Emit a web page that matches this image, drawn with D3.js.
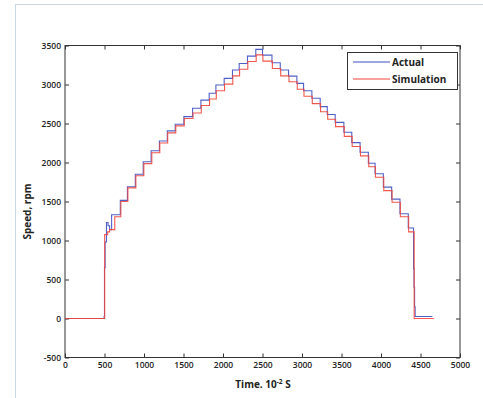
<!DOCTYPE html>
<html>
<head>
<meta charset="utf-8">
<script src="https://cdn.jsdelivr.net/npm/d3@7"></script>
<style>
  html, body { margin: 0; padding: 0; background: #fff; }
  svg { display: block; }
  text { font-family: "Open Sans", "Noto Sans", sans-serif; }
</style>
</head>
<body>
<svg id="chart" width="483" height="398"></svg>
<script>
// ---- data ----
const xTicks = [0, 500, 1000, 1500, 2000, 2500, 3000, 3500, 4000, 4500, 5000];
const yTicks = [-500, 0, 500, 1000, 1500, 2000, 2500, 3000, 3500];
const seriesNames = ["Actual", "Simulation"];

// Actual (blue) – step change points
const actualTime  = [0, 495, 500, 508, 525, 545, 565, 590, 700, 790, 890, 990, 1090, 1195, 1295, 1395, 1505, 1615, 1720, 1825, 1910, 2015, 2120, 2205, 2310, 2415, 2500, 2620, 2725, 2830, 2935, 3020, 3125, 3230, 3320, 3420, 3530, 3630, 3735, 3840, 3925, 4030, 4135, 4240, 4345, 4412, 4418, 4425, 4432, 4650];
const actualSpeed = [0, 25, 650, 980, 1230, 1190, 1140, 1330, 1515, 1690, 1850, 2010, 2150, 2275, 2405, 2490, 2588, 2695, 2800, 2887, 2993, 3079, 3185, 3270, 3364, 3450, 3376, 3278, 3185, 3108, 3014, 2920, 2823, 2716, 2615, 2515, 2388, 2255, 2132, 1991, 1855, 1684, 1531, 1343, 1160, 640, 400, 150, 25, 25];

// Simulation (red) – step change points
const simTime  = [0, 502, 540, 565, 630, 707, 796, 897, 998, 1099, 1200, 1300, 1402, 1510, 1620, 1725, 1830, 1915, 2020, 2124, 2210, 2314, 2420, 2505, 2625, 2730, 2835, 2940, 3025, 3130, 3235, 3325, 3425, 3535, 3635, 3740, 3845, 3930, 4035, 4140, 4245, 4350, 4420, 4670];
const simSpeed = [0, 1075, 1110, 1140, 1305, 1500, 1675, 1830, 1985, 2125, 2250, 2380, 2470, 2565, 2635, 2730, 2815, 2920, 3005, 3110, 3195, 3295, 3380, 3300, 3205, 3110, 3035, 2940, 2850, 2755, 2650, 2555, 2460, 2335, 2205, 2085, 1945, 1810, 1640, 1490, 1305, 1110, 0, 0];

const colors = { Actual: "#3d4fc4", Simulation: "#f2453a" };

// ---- layout ----
const svg = d3.select("#chart");
const mLeft = 65, mRight = 460, mTop = 45.5, mBottom = 357.5;

// figure frame
svg.append("rect")
  .attr("x", 15.5).attr("y", 4.5)
  .attr("width", 500).attr("height", 420)
  .attr("fill", "none").attr("stroke", "#c9d6e3").attr("stroke-width", 1);

const x = d3.scaleLinear().domain([0, 5000]).range([mLeft, mRight]);
const y = d3.scaleLinear().domain([-500, 3500]).range([mBottom, mTop]);

const axisColor = "#333";
function styleAxis(g) {
  g.selectAll(".domain").remove();
  g.selectAll("line").attr("stroke", axisColor);
  g.selectAll("text")
    .attr("fill", "#222")
    .style("font-size", "8.5px")
    .style("font-weight", "600");
}
const fmt = d => String(d);

svg.append("g").attr("transform", `translate(0,${mBottom})`)
  .call(d3.axisBottom(x).tickValues(xTicks).tickSizeInner(-4).tickSizeOuter(0).tickPadding(4).tickFormat(fmt))
  .call(styleAxis);
svg.append("g").attr("transform", `translate(0,${mTop})`)
  .call(d3.axisTop(x).tickValues(xTicks).tickSizeInner(-4).tickSizeOuter(0).tickFormat(""))
  .call(styleAxis);
svg.append("g").attr("transform", `translate(${mLeft},0)`)
  .call(d3.axisLeft(y).tickValues(yTicks).tickSizeInner(-4).tickSizeOuter(0).tickPadding(4).tickFormat(fmt))
  .call(styleAxis);
svg.append("g").attr("transform", `translate(${mRight},0)`)
  .call(d3.axisRight(y).tickValues(yTicks).tickSizeInner(-4).tickSizeOuter(0).tickFormat(""))
  .call(styleAxis);

// plot box
svg.append("rect")
  .attr("x", mLeft).attr("y", mTop)
  .attr("width", mRight - mLeft).attr("height", mBottom - mTop)
  .attr("fill", "none").attr("stroke", axisColor).attr("stroke-width", 1);

// ---- series ----
const line = d3.line().x(d => x(d[0])).y(d => y(d[1])).curve(d3.curveStepAfter);
const actual = actualTime.map((t, i) => [t, actualSpeed[i]]);
const sim = simTime.map((t, i) => [t, simSpeed[i]]);

svg.append("clipPath").attr("id", "clip")
  .append("rect").attr("x", mLeft).attr("y", mTop).attr("width", mRight - mLeft).attr("height", mBottom - mTop);

const plot = svg.append("g").attr("clip-path", "url(#clip)");
plot.append("path").datum(actual)
  .attr("d", line).attr("fill", "none")
  .attr("stroke", colors.Actual).attr("stroke-width", 1.1).attr("opacity", 0.9);
plot.append("path").datum(sim)
  .attr("d", line).attr("fill", "none")
  .attr("stroke", colors.Simulation).attr("stroke-width", 1.1).attr("opacity", 0.9);

// ---- axis labels ----
svg.append("text")
  .attr("transform", `translate(31,${(mTop + mBottom) / 2 + 10}) rotate(-90)`)
  .attr("text-anchor", "middle")
  .style("font-size", "10px").style("font-weight", "700").attr("fill", "#222")
  .text("Speed, rpm");

const xl = svg.append("text")
  .attr("x", 263).attr("y", 388)
  .attr("text-anchor", "middle")
  .style("font-size", "10px").style("font-weight", "700").attr("fill", "#222");
xl.append("tspan").text("Time. 10");
xl.append("tspan").attr("dy", -4).style("font-size", "6.5px").text("-2");
xl.append("tspan").attr("dy", 4).text(" S");

// ---- legend ----
const lg = svg.append("g");
lg.append("rect")
  .attr("x", 347.5).attr("y", 52.5).attr("width", 110).attr("height", 37)
  .attr("fill", "#fff").attr("stroke", axisColor).attr("stroke-width", 1);
seriesNames.forEach((name, i) => {
  const yy = 62 + i * 17;
  lg.append("line")
    .attr("x1", 353).attr("x2", 390).attr("y1", yy).attr("y2", yy)
    .attr("stroke", colors[name]).attr("stroke-width", 1.2);
  lg.append("text")
    .attr("x", 392).attr("y", yy + 3.5)
    .style("font-size", "10px").style("font-weight", "700").attr("fill", "#222")
    .text(name);
});
</script>
</body>
</html>
